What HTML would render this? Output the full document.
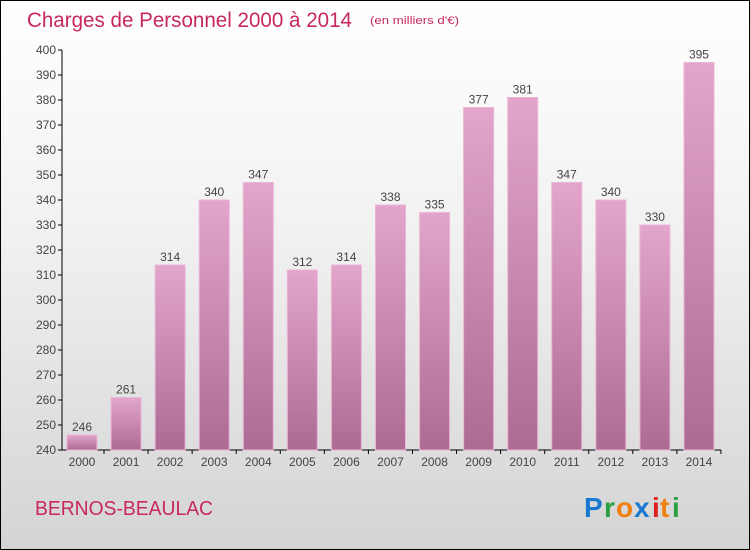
<!DOCTYPE html>
<html><head><meta charset="utf-8"><style>
html,body{margin:0;padding:0}
body{width:750px;height:550px;overflow:hidden;font-family:"Liberation Sans",sans-serif}
#wrap{position:absolute;left:0;top:0;width:748px;height:548px;border:1px solid #000;background:linear-gradient(#ffffff,#f2f2f2 40%,#d4d4d4)}
</style></head><body>
<div id="wrap">
<svg id="chart" width="750" height="550" style="position:absolute;left:-1px;top:-1px">
<defs><linearGradient id="bg" x1="0" y1="0" x2="0" y2="1"><stop offset="0" stop-color="#e3a5cc"/><stop offset="1" stop-color="#ad6b93"/></linearGradient></defs>
<text x="27" y="27" font-size="21" fill="#c8285f" textLength="325" lengthAdjust="spacingAndGlyphs">Charges de Personnel 2000 à 2014</text>
<text x="370" y="24" font-size="11" fill="#c8285f" textLength="89" lengthAdjust="spacingAndGlyphs">(en milliers d'€)</text>
<text x="35" y="515" font-size="20" fill="#c8285f" textLength="178" lengthAdjust="spacingAndGlyphs">BERNOS-BEAULAC</text>
<g font-size="28" font-weight="bold" font-family="'Liberation Sans',sans-serif">
<text x="584" y="517" fill="#1a78d0">P</text><text x="604" y="517" fill="#2aa040">r</text><text x="616" y="517" fill="#f08010">o</text><text x="634" y="517" fill="#1a78d0">x</text><text x="652" y="517" fill="#e02020">i</text><text x="660" y="517" fill="#f08010">t</text><text x="672" y="517" fill="#2aa040">i</text>
</g>
<g id="axes"></g><g id="bars"></g>
</svg></div>
<script>
const categories=["2000","2001","2002","2003","2004","2005","2006","2007","2008","2009","2010","2011","2012","2013","2014"];
const values=[246,261,314,340,347,312,314,338,335,377,381,347,340,330,395];
const yTicks=[240,250,260,270,280,290,300,310,320,330,340,350,360,370,380,390,400];
const NS="http://www.w3.org/2000/svg";
const y0=450,y1=50,vmin=240,vmax=400;
function y(v){return y0-(v-vmin)/(vmax-vmin)*(y0-y1);}
function x(i){return 82+i*44.07;}
function mk(t,a,p){const e=document.createElementNS(NS,t);for(const k in a)e.setAttribute(k,a[k]);p.appendChild(e);return e;}
const ax=document.getElementById('axes'),bs=document.getElementById('bars');
const yl=mk('line',{x1:62,y1:y1,x2:62,y2:y0,stroke:'#000','stroke-width':1},ax);


const xl=mk('line',{x1:62,y1:y0,x2:721,y2:y0,stroke:'#000','stroke-width':1},ax);


yTicks.forEach(v=>{
 mk('line',{x1:58,x2:62,y1:y(v),y2:y(v),stroke:'#000'},ax);
 const t=mk('text',{x:56,y:y(v)+4,'font-size':12,fill:'#444','text-anchor':'end'},ax);t.textContent=v;
 
 
});
categories.forEach((c,i)=>{
 const r=mk('rect',{x:x(i)-15,y:y(values[i]),width:30,height:y0-y(values[i]),fill:'url(#bg)',stroke:'#eab6d6','stroke-width':1},bs);
 
 
 const l=mk('text',{x:x(i),y:y(values[i])-4,'font-size':12,fill:'#444','text-anchor':'middle'},bs);l.textContent=values[i];
 
 
 mk('line',{x1:x(i)+22,x2:x(i)+22,y1:y0,y2:y0+4,stroke:'#000'},ax);
 const t=mk('text',{x:x(i),y:466,'font-size':12,fill:'#444','text-anchor':'middle'},ax);t.textContent=c;
 
 
});
</script>
</body></html>
